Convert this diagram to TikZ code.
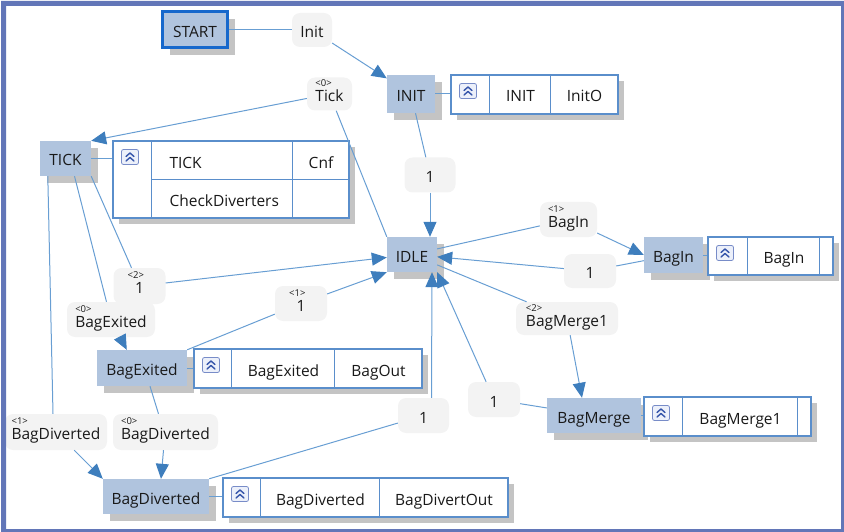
\documentclass[tikz,border=0pt]{standalone}
\usepackage{fontspec}
\setmainfont{Open Sans}
\usetikzlibrary{arrows.meta,calc,shadows}

\definecolor{frameblue}{RGB}{98,118,184}
\definecolor{statefill}{RGB}{176,196,222}
\definecolor{startblue}{RGB}{22,104,204}
\definecolor{edgeblue}{RGB}{104,158,211}
\definecolor{tipblue}{RGB}{62,126,189}
\definecolor{cellline}{RGB}{90,142,203}
\definecolor{shadowgray}{RGB}{196,196,196}
\definecolor{labelfill}{RGB}{243,243,243}
\definecolor{iconblue}{RGB}{52,84,170}
\definecolor{iconframe}{RGB}{120,140,200}
\definecolor{iconfill}{RGB}{236,240,250}

\newcommand\txtsize{\fontsize{15.5}{18}\selectfont}
\newcommand\supsize{\fontsize{9.5}{10}\selectfont}
% index tag above a label text, left or right aligned
\newcommand\supl[2]{\smash{\rlap{\raisebox{15pt}{\supsize #1}}}#2}
\newcommand\supr[2]{#2\smash{\llap{\raisebox{15pt}{\supsize #1}}}}

\tikzset{
  every node/.append style={font=\txtsize, text=black!90, text height=15pt, text depth=0pt},
  state/.style={rectangle, fill=statefill, inner sep=0pt,
    drop shadow={shadow xshift=7pt, shadow yshift=-7pt, fill=shadowgray, opacity=1}},
  startstate/.style={state, draw=startblue, line width=3pt},
  tbl/.style={rectangle, draw=cellline, line width=1.1pt, fill=white, inner sep=0pt,
    drop shadow={shadow xshift=6pt, shadow yshift=-6pt, fill=shadowgray, opacity=1}},
  cellrule/.style={draw=cellline, line width=1.1pt},
  lbl/.style={rectangle, rounded corners=8pt, fill=labelfill, inner sep=0pt},
  conn/.style={draw=edgeblue, line width=1pt},
  arr/.style={conn, -{Triangle[length=15pt,width=13pt,color=tipblue]}},
  pics/collapseicon/.style={code={
    \draw[draw=iconframe, fill=iconfill, rounded corners=2pt, line width=0.8pt]
      (-8.5,-7.5) rectangle (8.5,7.5);
    \draw[iconblue, line width=1.4pt, line cap=round, line join=round]
      (-4,-0.5) -- (0,-4) -- (4,-0.5) (-4,4) -- (0,0.5) -- (4,4);
  }}
}

\begin{document}
\begin{tikzpicture}[x=1pt,y=-1pt]
\useasboundingbox (0,0) rectangle (844,532);

% ---------- states ----------
\node[startstate, minimum width=65pt, minimum height=36pt] (start) at (195,30) {START};
\node[state, minimum width=48pt, minimum height=38pt] (init) at (411,94) {INIT};
\node[state, minimum width=51pt, minimum height=35pt] (tick) at (65.5,158.5) {TICK};
\node[state, minimum width=50pt, minimum height=35pt] (idle) at (412,254.5) {IDLE};
\node[state, minimum width=59pt, minimum height=36pt] (bagin) at (673.5,255) {BagIn};
\node[state, minimum width=94pt, minimum height=35pt] (bagmerge) at (594,415.5) {BagMerge};
\node[state, minimum width=90pt, minimum height=36pt] (bagexited) at (142,368) {BagExited};
\node[state, minimum width=106pt, minimum height=35pt] (bagdiverted) at (156,496.5) {BagDiverted};

% ---------- action tables ----------
% INIT
\node[tbl, minimum width=167pt, minimum height=39pt] (tinit) at (534.5,94.5) {};
\draw[cellrule] ($(tinit.north west)+(39,0)$) -- ($(tinit.south west)+(39,0)$)
                ($(tinit.north west)+(100,0)$) -- ($(tinit.south west)+(100,0)$);
\pic at (468,91) {collapseicon};
\node (tinitA) at (520.5,94.5) {INIT};
\node (tinitB) at (584.5,94.5) {InitO};

% TICK
\node[tbl, minimum width=236pt, minimum height=77pt] (ttick) at (231,179.5) {};
\draw[cellrule] ($(ttick.north west)+(39,0)$) -- ($(ttick.south west)+(39,0)$)
                ($(ttick.north west)+(180,0)$) -- ($(ttick.south west)+(180,0)$)
                ($(ttick.north west)+(39,39)$) -- ($(ttick.north east)+(0,39)$);
\pic at (130,157) {collapseicon};
\node[anchor=west] (ttickA) at (166,160.5) {TICK};
\node (ttickB) at (321,160.5) {Cnf};
\node[anchor=west] (ttickC) at (166,199) {CheckDiverters};

% BagIn
\node[tbl, minimum width=125pt, minimum height=38pt] (tbagin) at (770.5,256) {};
\draw[cellrule] ($(tbagin.north west)+(40,0)$) -- ($(tbagin.south west)+(40,0)$)
                ($(tbagin.north west)+(112,0)$) -- ($(tbagin.south west)+(112,0)$);
\pic at (725,253) {collapseicon};
\node (tbaginA) at (784,256) {BagIn};

% BagMerge
\node[tbl, minimum width=167pt, minimum height=39pt] (tbagmerge) at (727.5,416.5) {};
\draw[cellrule] ($(tbagmerge.north west)+(39,0)$) -- ($(tbagmerge.south west)+(39,0)$)
                ($(tbagmerge.north west)+(154,0)$) -- ($(tbagmerge.south west)+(154,0)$);
\pic at (661,413) {collapseicon};
\node (tbagmergeA) at (740.5,416.5) {BagMerge1};

% BagExited
\node[tbl, minimum width=228pt, minimum height=39pt] (tbagexited) at (308,368.5) {};
\draw[cellrule] ($(tbagexited.north west)+(38,0)$) -- ($(tbagexited.south west)+(38,0)$)
                ($(tbagexited.north west)+(141,0)$) -- ($(tbagexited.south west)+(141,0)$);
\pic at (211,365) {collapseicon};
\node (tbagexitedA) at (283.5,368.5) {BagExited};
\node (tbagexitedB) at (378.5,368.5) {BagOut};

% BagDiverted
\node[tbl, minimum width=285pt, minimum height=39pt] (tbagdiverted) at (365.5,497.5) {};
\draw[cellrule] ($(tbagdiverted.north west)+(38,0)$) -- ($(tbagdiverted.south west)+(38,0)$)
                ($(tbagdiverted.north west)+(157,0)$) -- ($(tbagdiverted.south west)+(157,0)$);
\pic at (240,494) {collapseicon};
\node (tbagdivertedA) at (320.5,497.5) {BagDiverted};
\node (tbagdivertedB) at (444,497.5) {BagDivertOut};

% ---------- transition labels ----------
\node[lbl, minimum width=40pt, minimum height=34pt] (lInit) at (312,30) {Init};
\node[lbl, minimum width=45pt, minimum height=33pt] (lTick) at (329.5,94) {\supl{<0>}{Tick}};
\node[lbl, minimum width=51pt, minimum height=35pt] (l1a) at (430,175) {1};
\node[lbl, minimum width=57pt, minimum height=35pt] (lBagIn) at (568.5,219.5) {\supl{<1>}{BagIn}};
\node[lbl, minimum width=52pt, minimum height=34pt] (l1BagIn) at (590,271) {1};
\node[lbl, minimum width=102pt, minimum height=33pt] (lBagMerge1) at (567,318.5) {\supl{<2>}{BagMerge1}};
\node[lbl, minimum width=52pt, minimum height=35pt] (l1Merge) at (494,399.5) {1};
\node[lbl, minimum width=51pt, minimum height=35pt] (l1Div) at (423.5,415.5) {1};
\node[lbl, minimum width=88pt, minimum height=35pt] (lBagExited) at (111,319.5) {\supl{<0>}{BagExited}};
\node[lbl, minimum width=52pt, minimum height=35pt] (l1Exit) at (301,303.5) {\supr{<1>}{1}};
\node[lbl, minimum width=52pt, minimum height=36pt] (l1Tick) at (139.5,286) {\supr{<2>}{1}};
\node[lbl, minimum width=102pt, minimum height=36pt] (lDiv1) at (56,432) {\supl{<1>}{BagDiverted}};
\node[lbl, minimum width=105pt, minimum height=36pt] (lDiv0) at (165.5,432) {\supl{<0>}{BagDiverted}};

% ---------- connectors ----------
\draw[conn] (start) -- (lInit);
\draw[arr] (lInit) -- (init);
\draw[conn] (init.east) -- (init.east -| tinit.west);

\draw[conn] (idle.north west) -- (lTick);
\draw[arr] (lTick) -- (tick.north east);
\draw[conn] (tick.east) -- (tick.east -| ttick.west);

\draw[conn] (init) -- (l1a);
\draw[arr] (l1a) -- (l1a |- idle.north);

\draw[conn] (idle) -- (lBagIn);
\draw[arr] (lBagIn) -- (bagin.west);
\draw[conn] (bagin.east) -- (bagin.east -| tbagin.west);
\draw[conn] (bagin) -- (l1BagIn);
\draw[arr] (l1BagIn) -- (idle);

\draw[conn] (idle) -- (lBagMerge1);
\draw[arr] (lBagMerge1) -- ($(bagmerge.north)+(-12,0)$);
\draw[conn] (bagmerge.east) -- (bagmerge.east -| tbagmerge.west);
\draw[conn] (bagmerge) -- (l1Merge);
\draw[arr] (l1Merge) -- (idle.south east);

\draw[conn] (bagdiverted.north east) -- (l1Div);
\draw[arr] ($(l1Div.north)+(8,0)$) -- ($(idle.south)+(20,0)$);
\draw[conn] (bagdiverted.east) -- (bagdiverted.east -| tbagdiverted.west);

\draw[conn] (tick.south east) -- (l1Tick);
\draw[arr] (l1Tick) -- (idle);

\draw[conn] ($(tick.south)+(9,0)$) -- (lBagExited);
\draw[arr] (lBagExited) -- ($(bagexited.north west)+(30,0)$);
\draw[conn] (bagexited.east) -- (bagexited.east -| tbagexited.west);
\draw[conn] (bagexited.north east) -- (l1Exit);
\draw[arr] (l1Exit) -- (idle.south west);

\draw[conn] ($(tick.south west)+(8,0)$) -- ($(lDiv1.north)+(-3,0)$);
\draw[arr] (lDiv1) -- (bagdiverted.north west);
\draw[conn] ($(bagexited.south)+(8,0)$) -- ($(lDiv0.north)+(-7,0)$);
\draw[arr] ($(lDiv0.south)+(-2,0)$) -- ($(bagdiverted.north)+(5,0)$);

% ---------- window frame ----------
\fill[frameblue, even odd rule] (1,1) rectangle (844,532) (6,6) rectangle (841,529);
\end{tikzpicture}
\end{document}
